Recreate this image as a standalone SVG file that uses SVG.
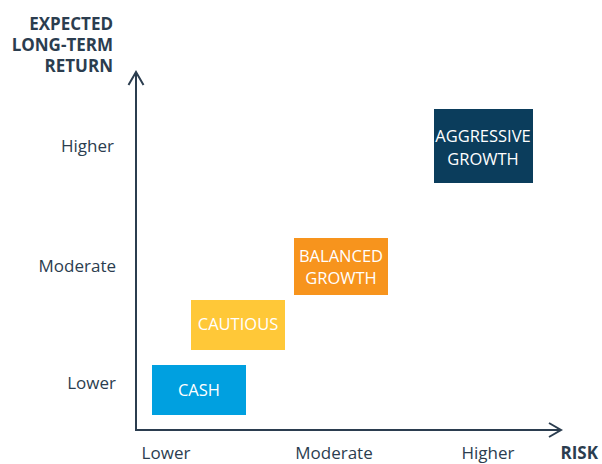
<svg xmlns="http://www.w3.org/2000/svg" width="602" height="464" viewBox="0 0 602 464">
<style>
text{font-family:"Open Sans","Liberation Sans",sans-serif;fill:#2b3d4f}
.t{font-size:17px;font-weight:bold;text-anchor:end}
.lab{font-size:17px}
.y{text-anchor:end}
.x{text-anchor:middle}
.bx{font-size:16.5px;fill:#fff;text-anchor:middle}
.ax{fill:none;stroke:#2b3d4f;stroke-width:2}
</style>
<rect width="602" height="464" fill="#fff"/>
<g id="title">
<text class="t" x="113" y="30">EXPECTED</text>
<text class="t" x="113" y="51">LONG-TERM</text>
<text class="t" x="113" y="72">RETURN</text>
</g>
<g id="connectors">
<polyline class="ax" points="136,72 136,430 561,430"/>
<polyline class="ax" points="128.5,85 136,72 143.5,85"/>
<polyline class="ax" points="549,423 561,430 549,437"/>
</g>
<g id="ylabels">
<text class="lab y" x="114" y="152">Higher</text>
<text class="lab y" x="116" y="272">Moderate</text>
<text class="lab y" x="116" y="389">Lower</text>
</g>
<g id="xlabels">
<text class="lab x" x="166" y="459">Lower</text>
<text class="lab x" x="334" y="459">Moderate</text>
<text class="lab x" x="488" y="459">Higher</text>
<text class="t" x="598" y="459">RISK</text>
</g>
<g id="cash">
<rect x="152" y="365" width="94" height="50" fill="#00a0e0"/>
<text class="bx" x="199" y="396">CASH</text>
</g>
<g id="cautious">
<rect x="191" y="300" width="94" height="50" fill="#ffc838"/>
<text class="bx" x="238" y="330">CAUTIOUS</text>
</g>
<g id="balanced">
<rect x="294" y="238" width="94" height="57" fill="#f7941d"/>
<text class="bx" x="341" y="262">BALANCED</text>
<text class="bx" x="341" y="284">GROWTH</text>
</g>
<g id="aggressive">
<rect x="434" y="109" width="99" height="74" fill="#0b3d5c"/>
<text class="bx" x="483" y="142">AGGRESSIVE</text>
<text class="bx" x="483" y="165">GROWTH</text>
</g>
</svg>
